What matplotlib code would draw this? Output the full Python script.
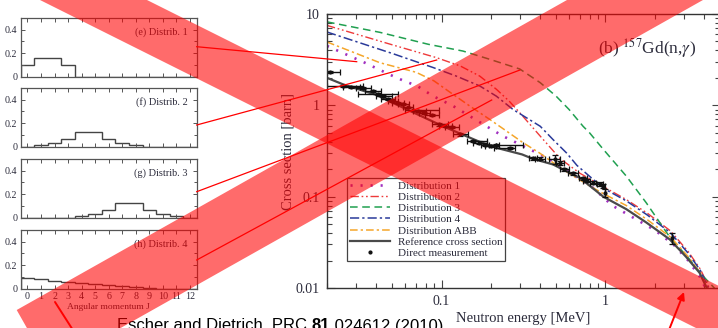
import matplotlib
matplotlib.use('Agg')
import matplotlib.pyplot as plt
from matplotlib.patches import Polygon
from matplotlib.ticker import NullFormatter, LogLocator, MultipleLocator

plt.rcParams['font.family'] = ['Liberation Serif', 'DejaVu Serif']
plt.rcParams['mathtext.fontset'] = 'stix'

# ---- data: spin distributions (left panels) ----
J = list(range(13))
dist1 = [0.10, 0.155, 0.155, 0.10, 0, 0, 0, 0, 0, 0, 0, 0, 0]
dist2 = [0, 0.011, 0.034, 0.068, 0.128, 0.128, 0.068, 0.034, 0.011, 0, 0, 0, 0]
dist3 = [0, 0, 0, 0, 0.011, 0.034, 0.068, 0.128, 0.128, 0.068, 0.034, 0.011, 0]
dist4 = [0.09, 0.079, 0.068, 0.059, 0.051, 0.040, 0.031, 0.023, 0.017, 0.008, 0, 0, 0]
panel_labels = ['(e) Distrib. 1', '(f) Distrib. 2', '(g) Distrib. 3', '(h) Distrib. 4']

# ---- data: cross sections (right panel) ----
d1_e = [0.02, 0.034, 0.048, 0.059, 0.071, 0.089, 0.118, 0.149, 0.188, 0.237, 0.286, 0.345,
        0.45, 0.6, 0.84, 1.1, 1.5, 2.0, 2.6, 3.2, 3.8, 4.1, 4.4]
d1_y = [4.47, 2.93, 2.18, 1.85, 1.63, 1.26, 0.98, 0.76, 0.59, 0.46, 0.39, 0.33,
        0.26, 0.185, 0.125, 0.08, 0.058, 0.043, 0.03, 0.02, 0.013, 0.0098, 0.0075]
d2_e = [0.02, 0.05, 0.093, 0.13, 0.171, 0.216, 0.26, 0.30, 0.40, 0.53, 0.7, 1.0,
        1.34, 1.8, 2.5, 3.2, 3.8, 4.2, 4.5]
d2_y = [7.5, 4.6, 3.33, 2.7, 2.09, 1.5, 1.1, 0.83, 0.46, 0.26, 0.18, 0.125,
        0.093, 0.066, 0.042, 0.025, 0.016, 0.011, 0.008]
d3_e = [0.02, 0.042, 0.083, 0.135, 0.197, 0.3, 0.4, 0.5, 0.6, 0.73, 0.8, 0.97,
        1.34, 1.78, 2.47, 3.27, 3.94, 4.5, 5.0]
d3_y = [8.2, 6.3, 4.66, 3.93, 3.19, 2.5, 1.77, 1.26, 0.9, 0.59, 0.5, 0.33,
        0.168, 0.085, 0.036, 0.0205, 0.0135, 0.0105, 0.0085]
d4_e = [0.02, 0.05, 0.089, 0.123, 0.171, 0.216, 0.273, 0.33, 0.4, 0.48, 0.58, 0.67,
        0.84, 1.0, 1.34, 1.8, 2.5, 3.2, 3.8, 4.2, 4.5]
d4_y = [6.35, 3.7, 2.59, 2.09, 1.63, 1.26, 0.9, 0.73, 0.59, 0.42, 0.3, 0.22,
        0.155, 0.12, 0.09, 0.063, 0.04, 0.024, 0.0155, 0.0105, 0.008]
abb_e = [0.02, 0.042, 0.07, 0.09, 0.112, 0.149, 0.197, 0.25, 0.314, 0.397, 0.48, 0.6,
         0.84, 1.0, 1.34, 1.8, 2.5, 3.2, 3.8, 4.15, 4.5]
abb_y = [4.94, 2.93, 2.3, 1.85, 1.4, 0.98, 0.70, 0.52, 0.39, 0.30, 0.235, 0.18,
         0.125, 0.105, 0.08, 0.056, 0.036, 0.022, 0.0145, 0.0102, 0.0078]
ref_e = [0.02, 0.025, 0.04, 0.06, 0.1, 0.13, 0.17, 0.22, 0.31, 0.36, 0.48, 0.53, 0.7,
         0.97, 1.34, 1.78, 2.47, 3.1, 3.75, 4.1, 4.4]
ref_y = [2.0, 1.7, 1.3, 0.92, 0.6, 0.49, 0.4, 0.34, 0.29, 0.26, 0.225, 0.205, 0.16,
         0.1, 0.073, 0.052, 0.034, 0.022, 0.0147, 0.0105, 0.008]

meas_e = [0.021, 0.025, 0.028, 0.033, 0.038, 0.041, 0.044, 0.047, 0.050, 0.054, 0.058,
          0.062, 0.067, 0.072, 0.078, 0.087, 0.097, 0.105, 0.115, 0.13, 0.155, 0.17,
          0.185, 0.2, 0.216, 0.26, 0.36, 0.40, 0.49, 0.53, 0.56, 0.63, 0.73, 0.77,
          0.84, 0.92, 0.97, 1.0, 2.53]
meas_y = [2.3, 1.63, 1.6, 1.55, 1.43, 1.32, 1.26, 1.16, 1.11, 1.07, 1.03,
          0.95, 0.88, 0.86, 0.83, 0.78, 0.62, 0.6, 0.58, 0.48, 0.41, 0.39,
          0.37, 0.36, 0.37, 0.34, 0.265, 0.26, 0.256, 0.235, 0.2, 0.18, 0.16, 0.15,
          0.142, 0.137, 0.13, 0.11, 0.035]
meas_xlo = [0.001, 0.005, 0.003, 0.003, 0.004, 0.01, 0.004, 0.004, 0.003, 0.004, 0.004,
            0.004, 0.007, 0.005, 0.005, 0.008, 0.01, 0.008, 0.01, 0.012, 0.012, 0.015,
            0.01, 0.015, 0.02, 0.05, 0.02, 0.03, 0.04, 0.03, 0.03, 0.04, 0.04, 0.04,
            0.03, 0.03, 0.02, 0.0, 0.0]
meas_xhi = [0.003, 0.008, 0.004, 0.004, 0.005, 0.013, 0.006, 0.005, 0.004, 0.005, 0.005,
            0.005, 0.03, 0.008, 0.007, 0.01, 0.012, 0.01, 0.012, 0.015, 0.035, 0.02,
            0.04, 0.015, 0.1, 0.02, 0.02, 0.03, 0.04, 0.03, 0.04, 0.05, 0.04, 0.04,
            0.04, 0.04, 0.03, 0.0, 0.0]
meas_yerr = [0.05, 0.04, 0.04, 0.04, 0.04, 0.03, 0.03, 0.03, 0.03, 0.03, 0.03,
             0.02, 0.02, 0.02, 0.02, 0.02, 0.02, 0.02, 0.02, 0.015, 0.012, 0.012,
             0.01, 0.01, 0.01, 0.01, 0.01, 0.01, 0.03, 0.01, 0.008, 0.007, 0.006, 0.006,
             0.006, 0.006, 0.006, 0.012, 0.005]

TXT = '#2b2b3b'
W, H = 718, 328
fig = plt.figure(figsize=(W / 100, H / 100), dpi=100)


def px_axes(l, t, r, b, **kw):
    return fig.add_axes([l / W, 1 - b / H, (r - l) / W, (b - t) / H], **kw)


# ---- left: J distributions ----
edges = [j - 0.5 for j in range(14)]
tops = [18, 88, 159, 230]
for k, (vals, lab) in enumerate(zip([dist1, dist2, dist3, dist4], panel_labels)):
    a = px_axes(20.7, tops[k], 196.7, tops[k] + 58.5)
    a.stairs(vals, edges, color='#444444', lw=1.0)
    a.set_xlim(-0.5, 12.5)
    a.set_ylim(0, 0.5)
    a.set_xticks(J)
    a.set_yticks([0, 0.2, 0.4], ['0', '0.2', '0.4'])
    a.yaxis.set_minor_locator(MultipleLocator(0.1))
    a.tick_params(which='both', direction='in', top=True, right=True,
                  labelsize=7.2, colors='#555555', labelcolor=TXT, width=0.7, pad=2.5)
    a.tick_params(which='major', length=3)
    a.tick_params(which='minor', length=2)
    for s in a.spines.values():
        s.set_color('#555555')
        s.set_linewidth(0.9)
    a.text(0.95, 0.765, lab, transform=a.transAxes, ha='right', va='center',
           fontsize=7.4, color=TXT)
    if k < 3:
        a.tick_params(labelbottom=False)
    else:
        a.set_xticklabels([str(j) for j in J])
        a.set_xlabel('Angular momentum J', fontsize=6.8, color=TXT, labelpad=1.5)

# ---- right: cross sections ----
ax = px_axes(327, 14, 720, 288)
ax.set_xscale('log')
ax.set_yscale('log')

ax.plot(d1_e, d1_y, color='#a030c0', lw=1.9, dashes=(0.8, 3.0), label='Distribution 1')
ax.plot(d2_e, d2_y, color='#ee3a3a', lw=1.0, dashes=(6, 2, 1.2, 2, 1.2, 2), label='Distribution 2')
ax.plot(d3_e, d3_y, color='#20a050', lw=1.1, dashes=(5, 3), label='Distribution 3')
ax.plot(d4_e, d4_y, color='#2a3a9a', lw=1.1, dashes=(6, 2, 1.5, 2), label='Distribution 4')
ax.plot(abb_e, abb_y, color='#f5a62a', lw=1.1, dashes=(5, 2, 1.5, 2), label='Distribution ABB')
ax.plot(ref_e, ref_y, color='#4a4a4a', lw=1.6, label='Reference cross section')
ax.errorbar(meas_e, meas_y, xerr=[meas_xlo, meas_xhi], yerr=meas_yerr, fmt='none',
            ecolor='#111111', elinewidth=1.0, capsize=2, capthick=0.9)
ax.plot(meas_e, meas_y, '.', color='#111111', ms=4, label='Direct measurement')

ax.set_xlim(0.02, 5)
ax.set_ylim(0.01, 10)
ax.set_xticks([0.1, 1], ['0.1', '1'])
ax.set_yticks([0.01, 0.1, 1, 10], ['0.01', '0.1', '1', '10'])
ax.xaxis.set_minor_locator(LogLocator(subs=range(2, 10)))
ax.yaxis.set_minor_locator(LogLocator(subs=range(2, 10)))
ax.xaxis.set_minor_formatter(NullFormatter())
ax.yaxis.set_minor_formatter(NullFormatter())
ax.tick_params(which='both', direction='in', top=True, right=True, colors='#444444',
               labelcolor=TXT, labelsize=10, width=0.8)
ax.tick_params(which='major', length=6, pad=5)
ax.tick_params(which='minor', length=3.5)
for s in ax.spines.values():
    s.set_color('#333333')
    s.set_linewidth(1.0)
ax.set_xlabel('Neutron energy [MeV]', fontsize=10.5, color=TXT, labelpad=3)
ax.set_ylabel('Cross section [barn]', fontsize=10.5, color=TXT, labelpad=1)
ax.text(0.69, 0.876, r'(b) $^{157}$Gd(n,$\gamma$)', transform=ax.transAxes,
        fontsize=12.5, color=TXT, va='center', ha='left')

leg = ax.legend(loc='upper left', bbox_to_anchor=(0.051, 0.401), fontsize=8.0,
                handlelength=3.6, handletextpad=0.7, labelspacing=0.13, borderpad=0.25,
                borderaxespad=0, fancybox=False, edgecolor='#444444', framealpha=1,
                numpoints=1)
leg.get_frame().set_linewidth(0.9)
for t in leg.get_texts():
    t.set_color(TXT)

# ---- overlay: red X, connector lines, arrows ----
ov = fig.add_axes([0, 0, 1, 1], zorder=20)
ov.set_xlim(0, W)
ov.set_ylim(H, 0)
ov.axis('off')
ov.patch.set_alpha(0)

band_b = [(107, -20), (800, 326.5), (800, 380), (0, -20)]
band_a = [(16.7, 310), (602.5, -20), (738.5, -20), (49.6, 368)]
for poly in (band_b, band_a):
    ov.add_patch(Polygon(poly, closed=True, facecolor='red', alpha=0.58,
                         edgecolor='none'))

links = [((196.7, 46.7), (356.7, 61.7)),
         ((196.7, 125), (436.7, 60)),
         ((196.7, 191.7), (520, 70)),
         ((196.7, 260), (491.7, 100))]
for (x0, y0), (x1, y1) in links:
    ov.plot([x0, x1], [y0, y1], color='red', lw=0.9)

for tail, tip in [((55, 302), (78, 338)), ((667, 335), (684, 292))]:
    ov.annotate('', xy=tip, xytext=tail, annotation_clip=False,
                arrowprops=dict(arrowstyle='-|>', color='red', lw=1.4,
                                mutation_scale=11, shrinkA=0, shrinkB=0))

# ---- citation at the bottom (cut by the frame edge, as in the slide) ----
fig.canvas.draw()
r = fig.canvas.get_renderer()
x = 116.7 / W
yb = (H - 330.5) / H
for part, wt in [('Escher and Dietrich, PRC ', 'normal'), ('81', 'bold'),
                 (' 024612 (2010)', 'normal')]:
    t = fig.text(x, yb, part, fontsize=12, family='Liberation Sans', weight=wt,
                 color='black', va='baseline', ha='left')
    bb = t.get_window_extent(renderer=r)
    x = bb.x1 / W

fig.savefig('out.png', dpi=100)
